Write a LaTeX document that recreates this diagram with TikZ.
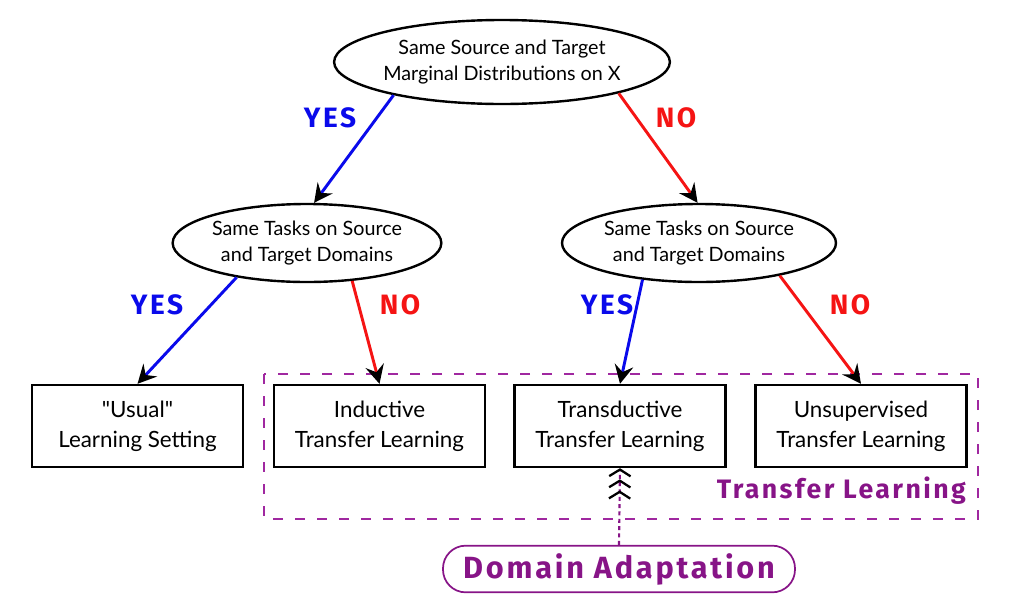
\documentclass[tikz,border=0pt]{standalone}
\usepackage{fontspec}
\setmainfont{Lato}
\newfontfamily\labelfont{Fira Sans}
\newfontfamily\groupfont[LetterSpace=9]{Fira Sans}
\usetikzlibrary{arrows.meta,shapes.geometric}
\definecolor{tlpurple}{RGB}{135,20,135}
\definecolor{tldash}{RGB}{160,40,160}
\definecolor{yesblue}{RGB}{10,10,235}
\definecolor{nored}{RGB}{245,20,20}

\begin{document}
\begin{tikzpicture}[
    x=0.75pt,
    y=-0.75pt,
    question/.style={draw=black, ellipse, line width=1.8pt, inner sep=0pt, align=center, font=\fontsize{14.8}{19.5}\selectfont},
    setting/.style={draw=black, rectangle, line width=1.8pt, minimum width=158pt, minimum height=61.5pt, align=center, font=\fontsize{16.8}{22.5}\selectfont},
    yesarrow/.style={yesblue, line width=2.2pt, -{Stealth[black, length=14pt, width=14pt, inset=5pt]}},
    noarrow/.style={nored, line width=2.2pt, -{Stealth[black, length=14pt, width=14pt, inset=5pt]}},
    yeslabel/.style={text=yesblue, font=\groupfont\bfseries\fontsize{21}{24}\selectfont},
    nolabel/.style={text=nored, font=\groupfont\bfseries\fontsize{21}{24}\selectfont}
]
\useasboundingbox (0,0) rectangle (1024,611);
% questions
\node[question, minimum width=233pt, minimum height=63pt] (marg) at (502,62) {Same Source and Target\\ Marginal Distributions on X};
\node[question, minimum width=199pt, minimum height=58.5pt] (tasksl) at (307,243) {Same Tasks on Source\\ and Target Domains};
\node[question, minimum width=205.5pt, minimum height=58.5pt] (tasksr) at (699,243) {Same Tasks on Source\\ and Target Domains};
% settings
\node[setting] (usual) at (137.5,426) {\textquotedbl Usual\textquotedbl\\ Learning Setting};
\node[setting] (induct) at (379.5,426) {Inductive\\ Transfer Learning};
\node[setting] (transd) at (620,426) {Transductive\\ Transfer Learning};
\node[setting] (unsup) at (861,426) {Unsupervised\\ Transfer Learning};
% transfer learning group
\draw[tldash, line width=2.2pt, dash pattern=on 7.5pt off 9pt] (264,374) rectangle (978,519);
\node[text=tlpurple, font=\groupfont\bfseries\fontsize{20}{24}\selectfont, anchor=east, inner sep=0pt] (tllabel) at (966,491) {Transfer Learning};
\node[draw=tlpurple, line width=1.3pt, rounded corners=17pt, minimum width=264pt, minimum height=35pt, text=tlpurple, font=\groupfont\bfseries\fontsize{23}{26}\selectfont] (domad) at (619,569) {Domain Adaptation};
% decisions
\draw[yesarrow] (marg.197) -- (tasksl.80);
\draw[noarrow] (marg.345) -- (tasksr.92);
\draw[yesarrow] (tasksl.206) -- (usual.north);
\draw[noarrow] (tasksl.320) -- (induct.north);
\draw[yesarrow] (tasksr.213) -- (transd.north);
\draw[noarrow] (tasksr.338) -- (unsup.north);
\node[yeslabel] (yes1) at (330,118) {YES};
\node[nolabel] (no1) at (676,118) {NO};
\node[yeslabel] (yes2) at (157,305) {YES};
\node[nolabel] (no2) at (400,305) {NO};
\node[yeslabel] (yes3) at (607,305) {YES};
\node[nolabel] (no3) at (850,305) {NO};
% domain adaptation link
\draw[tlpurple, line width=1.6pt, dash pattern=on 3pt off 2.5pt, -{Straight Barb[black, length=5pt, width=16pt, line width=1.7pt, sep=1.5pt] Straight Barb[black, length=5pt, width=16pt, line width=1.7pt, sep=1.5pt] Straight Barb[black, length=5pt, width=16pt, line width=1.7pt]}] (domad.north) -- (transd.south);
\end{tikzpicture}
\end{document}
